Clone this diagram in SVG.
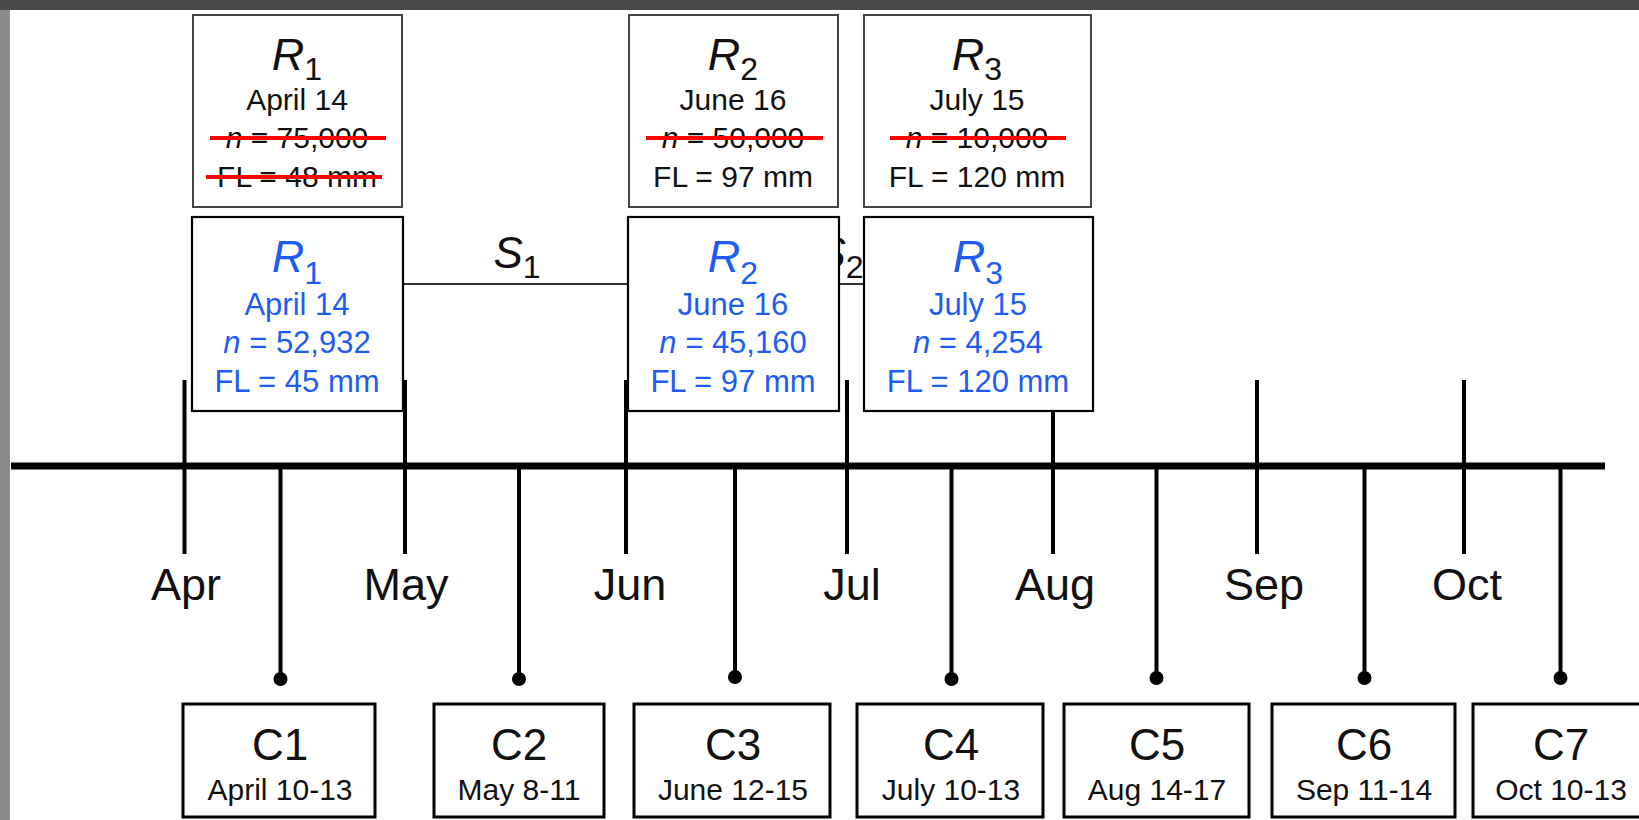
<svg xmlns="http://www.w3.org/2000/svg" width="1639" height="820" viewBox="0 0 1639 820">
<style>
text{font-family:"Liberation Sans",Arial,sans-serif;text-anchor:middle}
.old{fill:#111;font-size:30px}
.new{fill:#1d5cf6;font-size:31px}
.big{font-size:45px;font-style:italic}
.sub{font-size:32px;font-style:normal}
.obox{fill:#fff;stroke:#444;stroke-width:2}
.nbox{fill:#fff;stroke:#000;stroke-width:2.2}
.cbox{fill:#fff;stroke:#000;stroke-width:3}
.strike{stroke:#ff0000;stroke-width:4}
.tick{stroke:#000;stroke-width:4}
.month{font-size:45px;fill:#111}
.cname{font-size:44px;fill:#111}
.cdate{font-size:30px;fill:#111}
.slab{font-size:44px;font-style:italic;fill:#111}
</style>
<rect x="0" y="0" width="1639" height="820" fill="#4a4a4a"/>
<rect x="0" y="10" width="10" height="810" fill="#8a8a8a"/>
<rect x="10" y="10" width="1629" height="810" fill="#fff"/>

<g id="connectors">
  <line x1="403" y1="284" x2="864" y2="284" stroke="#333" stroke-width="2"/>
  <text class="slab" x="517" y="268">S<tspan class="sub" dy="10">1</tspan></text>
  <text class="slab" x="840" y="268">S<tspan class="sub" dy="10">2</tspan></text>
  <line x1="11" y1="466" x2="1605" y2="466" stroke="#000" stroke-width="7"/>
  <g class="tick">
    <line x1="184.5" y1="380" x2="184.5" y2="554"/>
    <line x1="405" y1="380" x2="405" y2="554"/>
    <line x1="626" y1="380" x2="626" y2="554"/>
    <line x1="847" y1="380" x2="847" y2="554"/>
    <line x1="1053" y1="380" x2="1053" y2="554"/>
    <line x1="1257" y1="380" x2="1257" y2="554"/>
    <line x1="1464" y1="380" x2="1464" y2="554"/>
  </g>
  <g class="tick">
    <line x1="280.5" y1="466" x2="280.5" y2="679"/>
    <line x1="519" y1="466" x2="519" y2="679"/>
    <line x1="735" y1="466" x2="735" y2="677"/>
    <line x1="951.5" y1="466" x2="951.5" y2="679"/>
    <line x1="1156.5" y1="466" x2="1156.5" y2="678"/>
    <line x1="1364.5" y1="466" x2="1364.5" y2="678"/>
    <line x1="1560.5" y1="466" x2="1560.5" y2="678"/>
  </g>
  <g fill="#000">
    <circle cx="280.5" cy="679" r="7"/>
    <circle cx="519" cy="679" r="7"/>
    <circle cx="735" cy="677" r="7"/>
    <circle cx="951.5" cy="679" r="7"/>
    <circle cx="1156.5" cy="678" r="7"/>
    <circle cx="1364.5" cy="678" r="7"/>
    <circle cx="1560.5" cy="678" r="7"/>
  </g>
</g>

<g id="months">
  <text class="month" x="186" y="600">Apr</text>
  <text class="month" x="406" y="600">May</text>
  <text class="month" x="630" y="600">Jun</text>
  <text class="month" x="852" y="600">Jul</text>
  <text class="month" x="1055" y="600">Aug</text>
  <text class="month" x="1264" y="600">Sep</text>
  <text class="month" x="1467" y="600">Oct</text>
</g>

<g id="R1-old">
  <rect class="obox" x="193" y="15" width="209" height="192"/>
  <text class="old" x="297" y="70"><tspan class="big">R</tspan><tspan class="sub" dy="10">1</tspan></text>
  <text class="old" x="297" y="110">April 14</text>
  <text class="old" x="297" y="148"><tspan font-style="italic">n</tspan> = 75,000</text>
  <text class="old" x="297" y="187">FL = 48 mm</text>
  <line class="strike" x1="210" y1="138" x2="386" y2="138"/>
  <line class="strike" x1="206" y1="177" x2="382" y2="177"/>
</g>
<g id="R2-old">
  <rect class="obox" x="629" y="15" width="209" height="192"/>
  <text class="old" x="733" y="70"><tspan class="big">R</tspan><tspan class="sub" dy="10">2</tspan></text>
  <text class="old" x="733" y="110">June 16</text>
  <text class="old" x="733" y="148"><tspan font-style="italic">n</tspan> = 50,000</text>
  <text class="old" x="733" y="187">FL = 97 mm</text>
  <line class="strike" x1="646" y1="138" x2="823" y2="138"/>
</g>
<g id="R3-old">
  <rect class="obox" x="864" y="15" width="227" height="192"/>
  <text class="old" x="977" y="70"><tspan class="big">R</tspan><tspan class="sub" dy="10">3</tspan></text>
  <text class="old" x="977" y="110">July 15</text>
  <text class="old" x="977" y="148"><tspan font-style="italic">n</tspan> = 10,000</text>
  <text class="old" x="977" y="187">FL = 120 mm</text>
  <line class="strike" x1="890" y1="138" x2="1066" y2="138"/>
</g>

<g id="R1-new">
  <rect class="nbox" x="192" y="217" width="211" height="194"/>
  <text class="new" x="297" y="272"><tspan class="big">R</tspan><tspan class="sub" dy="12">1</tspan></text>
  <text class="new" x="297" y="315">April 14</text>
  <text class="new" x="297" y="353"><tspan font-style="italic">n</tspan> = 52,932</text>
  <text class="new" x="297" y="392">FL = 45 mm</text>
</g>
<g id="R2-new">
  <rect class="nbox" x="628" y="217" width="211" height="194"/>
  <text class="new" x="733" y="272"><tspan class="big">R</tspan><tspan class="sub" dy="12">2</tspan></text>
  <text class="new" x="733" y="315">June 16</text>
  <text class="new" x="733" y="353"><tspan font-style="italic">n</tspan> = 45,160</text>
  <text class="new" x="733" y="392">FL = 97 mm</text>
</g>
<g id="R3-new">
  <rect class="nbox" x="864" y="217" width="229" height="194"/>
  <text class="new" x="978" y="272"><tspan class="big">R</tspan><tspan class="sub" dy="12">3</tspan></text>
  <text class="new" x="978" y="315">July 15</text>
  <text class="new" x="978" y="353"><tspan font-style="italic">n</tspan> = 4,254</text>
  <text class="new" x="978" y="392">FL = 120 mm</text>
</g>

<g id="C1">
  <rect class="cbox" x="183" y="704" width="192" height="113"/>
  <text class="cname" x="280" y="760">C1</text>
  <text class="cdate" x="280" y="800">April 10-13</text>
</g>
<g id="C2">
  <rect class="cbox" x="434" y="704" width="170" height="113"/>
  <text class="cname" x="519" y="760">C2</text>
  <text class="cdate" x="519" y="800">May 8-11</text>
</g>
<g id="C3">
  <rect class="cbox" x="634" y="704" width="196" height="113"/>
  <text class="cname" x="733" y="760">C3</text>
  <text class="cdate" x="733" y="800">June 12-15</text>
</g>
<g id="C4">
  <rect class="cbox" x="857" y="704" width="186" height="113"/>
  <text class="cname" x="951" y="760">C4</text>
  <text class="cdate" x="951" y="800">July 10-13</text>
</g>
<g id="C5">
  <rect class="cbox" x="1064" y="704" width="185" height="113"/>
  <text class="cname" x="1157" y="760">C5</text>
  <text class="cdate" x="1157" y="800">Aug 14-17</text>
</g>
<g id="C6">
  <rect class="cbox" x="1272" y="704" width="183" height="113"/>
  <text class="cname" x="1364" y="760">C6</text>
  <text class="cdate" x="1364" y="800">Sep 11-14</text>
</g>
<g id="C7">
  <rect class="cbox" x="1473" y="704" width="180" height="113"/>
  <text class="cname" x="1561" y="760">C7</text>
  <text class="cdate" x="1561" y="800">Oct 10-13</text>
</g>
</svg>
